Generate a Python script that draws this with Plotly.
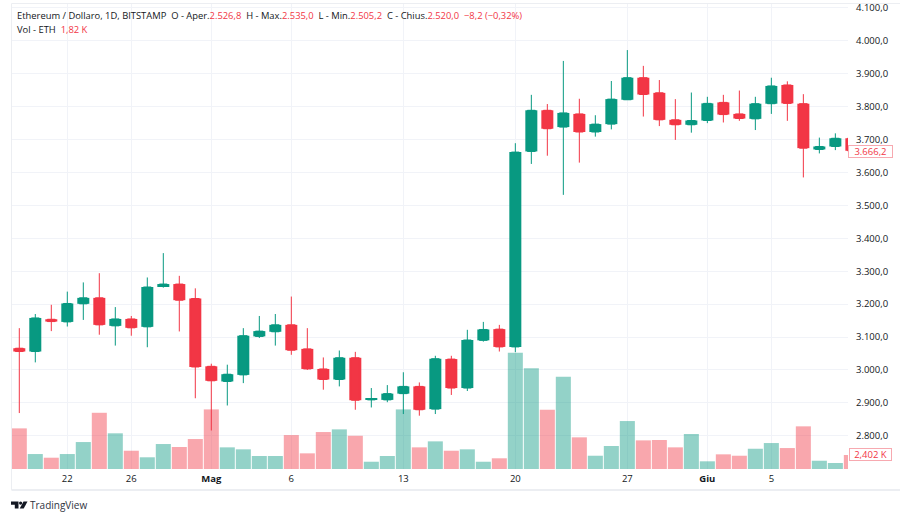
import pandas as pd
import plotly.graph_objects as go

dates = pd.date_range("2024-04-19", periods=53)
opens = [3066,3056,3154,3146,3201,3219,3134,3155,3131,3255,3261,3217,3011,2965,2985,3102,3116,3137,
         3064,3003,2971,3037,2909,2909,2928,2950,2881,3033,2945,3090,3124,3070,3664,3789,3738,3778,
         3723,3747,3821,3888,3842,3760,3745,3758,3813,3778,3763,3809,3866,3809,3670,3679,3704]
highs = [3127,3170,3198,3238,3266,3294,3191,3164,3281,3355,3286,3248,3019,3016,3127,3164,3170,3223,
         3127,3038,3059,3055,2945,2954,2993,2962,3043,3043,3122,3146,3137,3689,3836,3808,3939,3824,
         3774,3878,3972,3924,3881,3823,3843,3830,3836,3849,3830,3888,3877,3838,3706,3719,3704]
lows = [2869,3023,3118,3132,3152,3107,3074,3104,3069,3250,3117,2914,2816,2892,2960,3097,3074,3046,
        3000,2940,2950,2879,2886,2902,2866,2861,2866,2924,2936,3086,3056,3054,3626,3651,3532,3630,
        3709,3731,3821,3770,3741,3699,3721,3750,3752,3757,3729,3778,3757,3585,3658,3668,3660]
closes = [3056,3158,3147,3202,3219,3137,3155,3128,3252,3261,3212,3009,2967,2987,3104,3118,3137,3060,
          3003,2971,3037,2908,2912,2928,2950,2879,3034,2945,3091,3123,3070,3662,3789,3733,3781,3723,
          3747,3823,3888,3837,3760,3745,3758,3810,3776,3764,3809,3863,3810,3674,3679,3704,3666]
volumes = [6.98,2.57,1.94,2.57,4.63,9.66,6.13,3.14,2.01,4.29,3.78,5.15,10.24,3.72,3.38,2.23,2.23,5.83,
           2.69,6.35,6.81,5.71,1.25,2.23,10.24,3.72,4.75,3.14,3.38,1.25,1.84,19.96,17.33,10.18,15.84,5.44,
           2.28,3.95,8.24,4.92,4.98,3.72,6.01,1.32,2.52,2.28,3.48,4.46,3.60,7.33,1.42,1.03,2.402]
tick_dates = ["2024-04-22","2024-04-26","2024-05-01","2024-05-06","2024-05-13","2024-05-20","2024-05-27","2024-06-01","2024-06-05"]
tick_labels = ["22","26","<b>Mag</b>","6","13","20","27","<b>Giu</b>","5"]
price_ticks = list(range(2800, 4101, 100))

GREEN, RED = "#089981", "#F23645"
FONT = "Open Sans"
L, R, T, B = 12, 848, 4, 469.5
px = lambda v: (v - L) / (R - L)
py = lambda v: (B - v) / (B - T)

up = [c >= o for o, c in zip(opens, closes)]
vol_colors = ["rgba(8,153,129,0.44)" if u else "rgba(242,54,69,0.44)" for u in up]
body_colors = [GREEN if u else RED for u in up]
DAY_MS = 86400000

fig = go.Figure()
fig.add_trace(go.Bar(x=dates, y=volumes, marker=dict(color=vol_colors, line_width=0), yaxis="y", hoverinfo="skip"))
fig.add_trace(go.Bar(x=dates, base=[min(o, c) for o, c in zip(opens, closes)], y=[abs(c - o) for o, c in zip(opens, closes)],
                     width=DAY_MS * 0.75, marker=dict(color=body_colors, line_width=0), yaxis="y2", hoverinfo="skip"))
fig.add_trace(go.Candlestick(
    x=dates, open=opens, high=highs, low=lows, close=closes, yaxis="y2", whiskerwidth=0,
    increasing=dict(line=dict(color=GREEN, width=1), fillcolor=GREEN),
    decreasing=dict(line=dict(color=RED, width=1), fillcolor=RED)))

def txt(x, y, s, color="#131722", size=9.5, anchor="left", **kw):
    fig.add_annotation(xref="paper", yref="paper", x=px(x), y=py(y), text=s, showarrow=False, xanchor=anchor,
                       yanchor="middle", align="left", font=dict(family=FONT, size=size, color=color),
                       borderpad=0, borderwidth=0, **kw)

def seg(y, col):
    return f"<span style='color:{col}'>{y}</span>"

red_t = "#F23645"
header = ("Ethereum / Dollaro, 1D, BITSTAMP  O - Aper." + seg("2.526,8", red_t) + "  H - Max." + seg("2.535,0", red_t)
          + "  L - Min." + seg("2.505,2", red_t) + "  C - Chius." + seg("2.520,0", red_t)
          + "  " + seg("−8,2 (−0,32%)", red_t))
txt(17, 16, header, size=9.4)
txt(17, 29.5, "Vol - ETH  " + seg("1,82 K", red_t), size=9.4)
txt(30, 505.5, "TradingView", size=10, color="#30343f")

for x_c, y_c, wd, label in [(871, 151.5, 43, "3.666,2"), (870, 455, 41, "2,402 K")]:
    fig.add_annotation(xref="paper", yref="paper", x=px(x_c), y=py(y_c), text=label, showarrow=False,
                       font=dict(family=FONT, size=9.5, color=red_t), bgcolor="white", width=wd, height=11,
                       bordercolor="#F7A9B0", borderwidth=1, borderpad=0, xanchor="center", yanchor="middle")

border = "#eceef2"
shapes = [
    dict(type="line", xref="paper", yref="paper", x0=px(11.5), x1=px(900), y0=py(3.5), y1=py(3.5), line=dict(color=border, width=1)),
    dict(type="line", xref="paper", yref="paper", x0=px(11.5), x1=px(11.5), y0=py(3.5), y1=py(490.5), line=dict(color=border, width=1)),
    dict(type="line", xref="paper", yref="paper", x0=px(11.5), x1=px(900), y0=py(490.5), y1=py(490.5), line=dict(color=border, width=2)),
    # TradingView mark
    dict(type="path", xref="paper", yref="paper", fillcolor="#131722", line_width=0,
         path=f"M{px(11)},{py(502)} L{px(18.5)},{py(502)} L{px(18.5)},{py(509)} L{px(14.8)},{py(509)} L{px(14.8)},{py(505.3)} L{px(11)},{py(505.3)} Z"),
    dict(type="circle", xref="paper", yref="paper", fillcolor="#131722", line_width=0,
         x0=px(19), x1=px(22.2), y0=py(505.3), y1=py(502)),
    dict(type="path", xref="paper", yref="paper", fillcolor="#131722", line_width=0,
         path=f"M{px(23.5)},{py(502)} L{px(27.5)},{py(502)} L{px(23.7)},{py(509)} L{px(19.7)},{py(509)} Z"),
]

grid = "#f1f3f8"
fig.update_layout(
    width=900, height=517, autosize=False, showlegend=False,
    paper_bgcolor="white", plot_bgcolor="white",
    margin=dict(l=L, r=900 - R, t=T, b=517 - B, pad=0, autoexpand=False),
    separators=",.", bargap=0.06,
    shapes=shapes,
    font=dict(family=FONT, size=9.5, color="#131722"),
    xaxis=dict(type="date", range=["2024-04-18 13:03", "2024-06-09 18:58"], rangeslider=dict(visible=False),
               tickmode="array", tickvals=tick_dates, ticktext=tick_labels, tickangle=0, showgrid=True, gridcolor=grid,
               gridwidth=1, zeroline=False, showline=False, ticks="", automargin=False, ticklabelstandoff=2,
               tickfont=dict(family=FONT, size=9.5, color="#131722")),
    yaxis=dict(range=[0, 79.9], visible=False, showgrid=False, zeroline=False, fixedrange=True),
    yaxis2=dict(overlaying="y", side="right", range=[2699, 4112], tickmode="array", tickvals=price_ticks,
                tickformat=",.1f", showgrid=True, gridcolor=grid, gridwidth=1, zeroline=False, showline=False,
                ticks="", ticklabelstandoff=7, automargin=False, tickfont=dict(family=FONT, size=9.5, color="#131722")),
)
fig.write_html("out.html", config=dict(displayModeBar=False), post_script="document.body.style.margin='0';")
